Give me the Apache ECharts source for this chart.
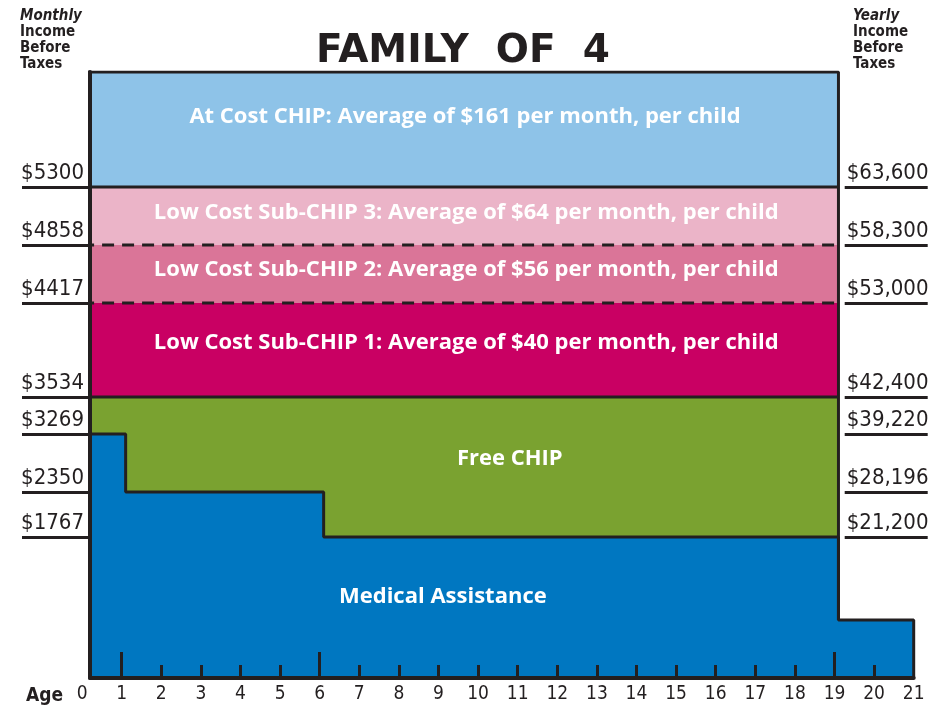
<!DOCTYPE html>
<html>
<head>
<meta charset="utf-8">
<script src="https://cdn.jsdelivr.net/npm/echarts@6/dist/echarts.min.js"></script>
<style>
  html, body { margin: 0; padding: 0; background: #fff; }
  #chart { width: 944px; height: 707px; }
</style>
</head>
<body>
<div id="chart"></div>
<script>
const ink = '#231f20'

// ages along the bottom axis
const ageLabels = [0, 1, 2, 3, 4, 5, 6, 7, 8, 9, 10, 11, 12, 13, 14, 15, 16, 17, 18, 19, 20, 21]
const longTickAges = [1, 6, 19]
const shortTickAges = [2, 3, 4, 5, 7, 8, 9, 10, 11, 12, 13, 14, 15, 16, 17, 18, 20]

// income thresholds, family of 4
const monthlyIncome = ['$1767', '$2350', '$3269', '$3534', '$4417', '$4858', '$5300']
const yearlyIncome = ['$21,200', '$28,196', '$39,220', '$42,400', '$53,000', '$58,300', '$63,600']
// the original is schematic, not to income scale: height of each threshold on its vertical scale
const incomeLevel = [141, 186, 244, 281, 375, 433, 491]
const topLevel = 606
const adultMaLevel = 58

// CHIP bands (ages 0 to 19)
const bandNames = [
  'At Cost CHIP: Average of $161 per month, per child',
  'Low Cost Sub-CHIP 3: Average of $64 per month, per child',
  'Low Cost Sub-CHIP 2: Average of $56 per month, per child',
  'Low Cost Sub-CHIP 1: Average of $40 per month, per child',
  'Free CHIP'
]
const bandAgeFrom = [0, 0, 0, 0, 0]
const bandAgeTo = [19.1, 19.1, 19.1, 19.1, 19.1]
const bandLow = [491, 433, 375, 281, 0]
const bandHigh = [606, 491, 433, 375, 281]

// Medical Assistance steps down with age
const maAges = [0, 1.1, 6.1, 19.1, 21]
const maLevels = [244, 186, 141, 58, 58]

const bandColors = ['#8ec3e8', '#ebb4c8', '#da7598', '#c90063', '#7aa230']
const maColor = '#0077c1'

// where the white text sits: [age, level]
const labelSpots = [[9.67, 561], [9.7, 465], [9.7, 408], [9.7, 335], [10.8, 219], [9.11, 81]]
const labelTexts = bandNames.concat(['Medical Assistance'])

const narrow = '"DejaVu Sans Condensed", "Liberation Sans Narrow", sans-serif'
const chart = echarts.init(document.getElementById('chart'), null, { renderer: 'canvas' })

const bandData = bandNames.map((n, i) => [bandAgeFrom[i], bandAgeTo[i], bandLow[i], bandHigh[i]])
const maData = maAges.map((a, i) => [a, maLevels[i]])
maData.push([maAges[maAges.length - 1], 0])

const planEnd = bandAgeTo[0]
const boundaryLines = [
  { lv: incomeLevel[6], dash: false },
  { lv: incomeLevel[5], dash: true },
  { lv: incomeLevel[4], dash: true },
  { lv: incomeLevel[3], dash: false }
]

const headStyle = {
  fontFamily: narrow, fontWeight: 'bold', fontSize: 15, lineHeight: 16, color: ink,
  rich: { i: { fontFamily: narrow, fontWeight: 'bold', fontStyle: 'italic', fontSize: 15, lineHeight: 16, color: ink } }
}

const option = {
  backgroundColor: '#fff',
  animation: false,
  title: [
    {
      text: 'FAMILY  OF  4', left: 311, top: 27,
      textStyle: { fontFamily: '"DejaVu Sans", sans-serif', fontWeight: 'bold', fontSize: 39, color: ink }
    },
    { text: '{i|Monthly}\nIncome\nBefore\nTaxes', left: 15, top: 3, textStyle: headStyle },
    { text: '{i|Yearly}\nIncome\nBefore\nTaxes', left: 848, top: 3, textStyle: headStyle },
    {
      text: 'Age', left: 21, top: 682,
      textStyle: { fontFamily: narrow, fontWeight: 'bold', fontSize: 19, color: ink }
    }
  ],
  grid: [
    { left: 90, right: 30.3, top: 72, height: 606 },
    { left: 82.08, right: 30.3, top: 72, height: 606 }
  ],
  xAxis: [
    {
      type: 'value', gridIndex: 0, position: 'bottom', min: 0.2, max: 21, z: 10,
      axisLine: { lineStyle: { color: ink, width: 4 } },
      axisTick: { show: false }, axisLabel: { show: false }, splitLine: { show: false }
    },
    {
      type: 'value', gridIndex: 1, position: 'bottom', min: 0, max: 21, interval: 1, z: 10,
      axisLine: { show: false },
      axisTick: { inside: true, length: 13, customValues: shortTickAges, lineStyle: { color: ink, width: 3 } },
      axisLabel: { customValues: ageLabels, margin: 7, fontFamily: narrow, fontSize: 19, color: ink },
      splitLine: { show: false }
    },
    {
      type: 'value', gridIndex: 1, position: 'bottom', min: 0, max: 21, interval: 1, z: 10,
      axisLine: { show: false },
      axisTick: { inside: true, length: 26, customValues: longTickAges, lineStyle: { color: ink, width: 3 } },
      axisLabel: { show: false }, splitLine: { show: false }
    }
  ],
  yAxis: [
    {
      type: 'value', gridIndex: 0, min: 0, max: topLevel, position: 'left', z: 10,
      axisLine: { show: true, lineStyle: { color: ink, width: 4 } },
      axisTick: { show: true, length: 68, customValues: incomeLevel, lineStyle: { color: ink, width: 3 } },
      axisLabel: {
        customValues: incomeLevel, margin: 6, verticalAlign: 'bottom', padding: [0, 0, 3, 0],
        fontFamily: narrow, fontSize: 22, color: ink,
        formatter: v => monthlyIncome[incomeLevel.indexOf(v)]
      },
      splitLine: { show: false }
    },
    {
      type: 'value', gridIndex: 0, min: 0, max: topLevel, position: 'right', offset: -69, z: 10,
      axisLine: { show: false },
      axisTick: { show: true, length: 83, customValues: incomeLevel, lineStyle: { color: ink, width: 3 } },
      axisLabel: {
        customValues: incomeLevel, margin: 2, verticalAlign: 'bottom', padding: [0, 0, 3, 0],
        fontFamily: narrow, fontSize: 22, color: ink,
        formatter: v => yearlyIncome[incomeLevel.indexOf(v)]
      },
      splitLine: { show: false }
    },
    { type: 'value', gridIndex: 1, min: 0, max: topLevel, show: false }
  ],
  series: [
    {
      type: 'custom', name: 'bands', xAxisIndex: 0, yAxisIndex: 0, clip: true, z: 1,
      data: bandData,
      renderItem(params, api) {
        const a = api.coord([api.value(0), api.value(3)])
        const b = api.coord([api.value(1), api.value(2)])
        return {
          type: 'rect',
          shape: { x: a[0], y: a[1], width: b[0] - a[0], height: b[1] - a[1] },
          style: { fill: bandColors[params.dataIndex] }
        }
      }
    },
    {
      type: 'line', name: 'Medical Assistance', xAxisIndex: 0, yAxisIndex: 0, z: 3,
      step: 'end', symbol: 'none', data: maData,
      lineStyle: { color: ink, width: 3 },
      areaStyle: { color: maColor, opacity: 1 }
    },
    {
      type: 'line', name: 'outline', xAxisIndex: 0, yAxisIndex: 0, z: 4, symbol: 'none',
      data: [[0, topLevel], [planEnd, topLevel], [planEnd, adultMaLevel]],
      lineStyle: { color: ink, width: 3 }
    },
    ...boundaryLines.map(b => ({
      type: 'line', xAxisIndex: 0, yAxisIndex: 0, z: 4, symbol: 'none',
      data: [[0, b.lv], [planEnd, b.lv]],
      lineStyle: { color: ink, width: 3, type: b.dash ? [12, 8] : 'solid' }
    })),
    {
      type: 'custom', name: 'labels', xAxisIndex: 0, yAxisIndex: 0, z: 6,
      data: labelSpots,
      renderItem(params, api) {
        const p = api.coord([api.value(0), api.value(1)])
        return {
          type: 'text',
          x: p[0], y: p[1],
          style: {
            text: labelTexts[params.dataIndex],
            fill: '#fff',
            font: 'bold 22px "Open Sans", "Noto Sans", sans-serif',
            align: 'center', verticalAlign: 'middle'
          }
        }
      }
    }
  ]
}

chart.setOption(option)
</script>
</body>
</html>
